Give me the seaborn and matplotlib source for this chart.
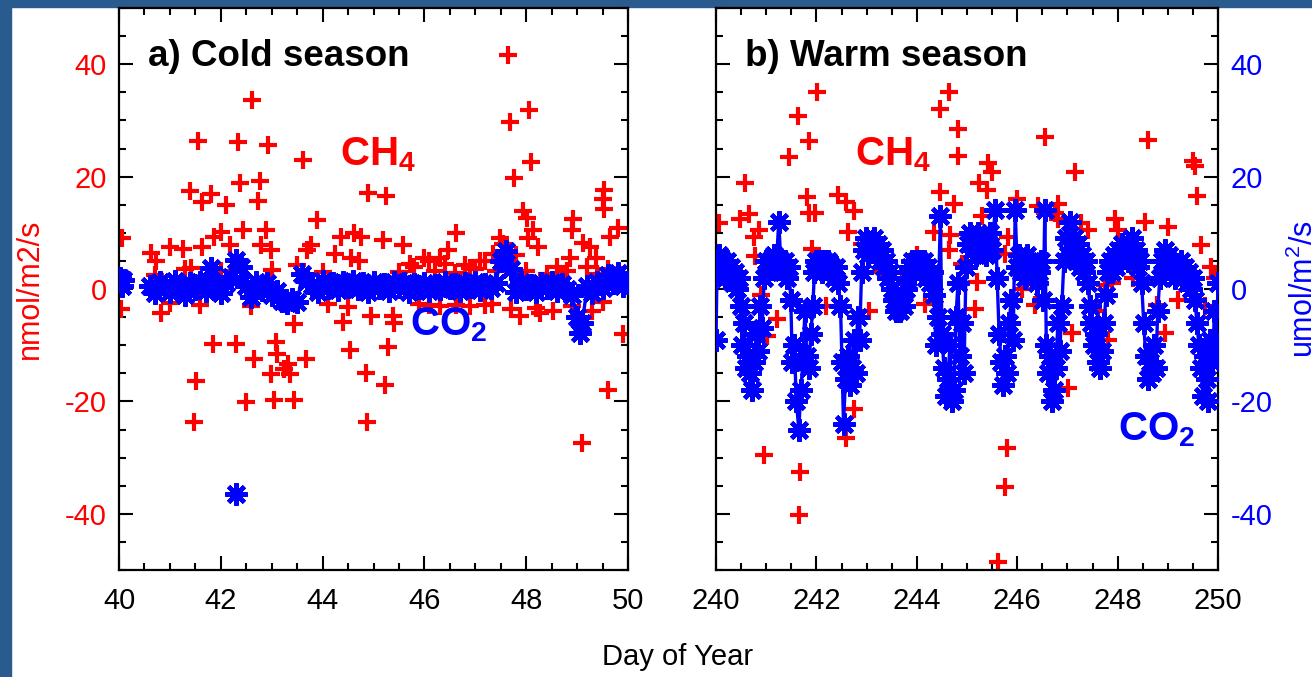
import numpy as np
import pandas as pd
import matplotlib
matplotlib.use("Agg")
import matplotlib.pyplot as plt
import seaborn as sns
from matplotlib.ticker import MultipleLocator
from matplotlib.patches import Rectangle

# ---------------- data ----------------
# Cold season CH4 (nmol/m2/s)
ch4_cold_day = [42.62, 41.55, 42.33, 42.93, 43.61, 41.40, 42.38, 42.77, 41.81, 41.64,
                42.10, 42.74, 43.89, 44.90, 42.00, 41.86, 42.43, 42.89, 42.78, 42.99,
                42.19, 40.06, 40.63, 41.01, 41.25, 41.64, 40.72, 41.41, 43.70, 43.77,
                44.24, 44.36, 44.62, 44.76, 44.55, 44.72, 40.04, 40.82, 44.10, 43.44,
                44.40, 41.84, 42.30, 42.66, 43.08, 43.11, 43.32, 43.67, 42.99, 43.35,
                43.25, 44.53, 44.85, 41.51, 42.49, 43.05, 43.44, 41.47, 44.87,
                47.64, 48.06, 47.68, 48.10, 47.76, 49.53, 49.50, 49.53, 47.94, 48.01,
                48.14, 48.04, 48.23, 48.92, 48.89, 49.12, 49.25, 49.81, 49.65, 48.86,
                49.38, 45.18, 45.57, 46.63, 46.46, 45.25, 47.48, 47.35, 46.10, 46.30,
                46.89, 47.09, 45.71, 45.38, 45.41, 44.95, 45.28, 45.22, 46.10, 46.63,
                47.33, 47.87, 48.27, 48.53, 49.61, 49.09, 49.91,
                40.70, 41.00, 41.30, 41.60, 42.00, 42.60, 43.00, 43.50, 44.00, 44.50,
                45.50, 45.80, 46.00, 46.20, 46.40, 46.60, 46.80, 47.00, 47.20, 47.40,
                47.55, 47.80, 48.00, 48.40, 48.60, 48.80, 49.20, 49.40, 49.60, 49.90,
                45.90, 46.30, 46.90, 47.20, 47.70, 48.20, 48.90, 49.30, 49.50]
ch4_cold_val = [33.6, 26.3, 26.1, 25.6, 22.9, 17.4, 18.9, 19.2, 16.9, 15.4,
                14.9, 15.6, 12.2, 17.1, 10.2, 9.3, 10.5, 10.5, 7.8, 6.9,
                7.8, 9.0, 6.4, 7.5, 7.2, 7.5, 5.0, 3.8, 6.9, 7.8,
                6.2, 9.3, 9.9, 9.3, 5.6, 5.0, -3.5, -4.2, -2.6, -6.3,
                -5.9, -9.7, -9.7, -12.4, -9.4, -11.5, -13.3, -12.4, -15.2, -15.2,
                -14.2, -10.9, -14.9, -16.4, -20.1, -19.7, -19.7, -23.6, -23.6,
                41.7, 31.9, 29.8, 22.6, 19.8, 17.6, 16.0, 14.2, 13.9, 12.7,
                10.5, 9.0, 7.5, 12.4, 10.5, 8.1, 7.5, 10.8, 9.3, 5.6,
                5.6, 8.7, 7.8, 9.9, 6.9, 16.6, 9.0, 6.2, 5.0, 5.6,
                3.8, 5.0, 4.4, -4.8, -6.0, -4.8, -10.3, -17.0, -2.9, -2.9,
                -2.6, -4.8, -4.2, -3.9, -17.9, -27.4, -8.0,
                2.5, -2.5, 3.5, -2.8, 3.2, -3.0, 3.4, 4.2, 3.0, -3.2,
                3.0, 4.0, 5.5, 3.2, 4.5, 2.8, 4.2, 3.6, 5.0, 3.2,
                8.0, 6.0, 3.2, 2.6, 4.0, 3.2, 4.0, 2.6, 3.6, 2.5,
                -2.6, -3.0, -3.0, -2.8, -3.5, -3.3, -3.0, -4.0, -2.4]

# Cold season CO2 (umol/m2/s); segment id separates data gaps
co2_cold_day = [40.02, 40.05, 40.08,
                40.6, 40.7, 40.8, 40.9, 41.0, 41.1, 41.2, 41.3, 41.4, 41.5,
                41.6, 41.7, 41.8, 41.9, 42.0, 42.1, 42.2, 42.3, 42.4, 42.5,
                42.6, 42.7, 42.8, 42.9, 43.0, 43.1, 43.2, 43.3, 43.4, 43.5,
                43.6, 43.7, 43.8, 43.9, 44.0, 44.1, 44.2, 44.3, 44.4, 44.5,
                44.6, 44.7, 44.8, 44.9, 45.0, 45.1, 45.2, 45.3, 45.4, 45.5,
                45.6, 45.7, 45.8, 45.9, 46.0, 46.1, 46.2, 46.3, 46.4, 46.5,
                46.6, 46.7, 46.8, 46.9, 47.0, 47.1, 47.2, 47.3, 47.4, 47.5,
                47.6, 47.7, 47.8, 47.9, 48.0, 48.1, 48.2, 48.3, 48.4, 48.5,
                48.6, 48.7, 48.8, 48.9, 49.0, 49.05, 49.1, 49.2, 49.3, 49.4,
                49.5, 49.6, 49.7, 49.8, 49.9, 50.0,
                42.30]
co2_cold_val = [2.0, 0.6, 1.6,
                0.5, -0.8, 1.2, 0.3, -0.5, 1.5, 0.2, -1.0, 1.0, 0.0,
                1.3, -0.4, 3.8, 0.6, -0.8, 1.0, 2.2, 5.2, 4.0, 0.5,
                -1.5, 1.2, -0.2, 1.0, -1.0, -0.3, -2.2, -2.5, -1.8, -2.4,
                2.6, 1.5, 0.8, -0.5, 1.4, 0.2, 1.0, -0.2, 1.2, 0.4,
                1.5, 0.0, 1.1, -0.6, 1.3, 0.1, 0.9, -0.4, 1.2, 0.3,
                1.0, -0.5, 0.9, 0.2, 1.1, -0.3, 0.8, 0.0, 1.2, 0.2,
                0.9, -0.4, 1.0, 0.3, 1.2, -0.2, 0.9, 0.1, 1.1, 5.0,
                6.8, 3.5, -0.5, 1.2, 0.0, 0.8, -0.6, 1.0, 0.2, 1.3,
                -0.3, 0.9, 0.0, -1.0, -5.0, -7.8, -6.0, 0.5, -0.8, 1.2,
                0.2, 2.5, 1.0, 2.8, 0.5, 1.0,
                -36.5]
co2_cold_seg = [0, 0, 0] + [1] * 96 + [2]

# Warm season CH4 (nmol/m2/s)
ch4_warm_day = [242.01, 241.63, 241.85, 241.46, 240.58, 241.81, 241.85, 241.98, 242.43, 242.58,
                242.74, 242.63, 240.48, 240.65, 240.05, 240.85, 240.75, 240.78, 241.91, 241.22,
                241.02, 242.74, 242.58, 240.95, 241.68, 241.66, 244.64, 244.47, 244.83, 244.83,
                244.47, 244.74, 244.34, 244.67, 244.64, 244.17, 243.04, 244.90,
                246.55, 248.61, 249.51, 249.54, 249.58, 247.15, 245.42, 245.49, 245.23, 245.39,
                245.29, 245.99, 246.42, 246.82, 246.75, 246.82, 247.28, 247.42, 248.01, 248.55,
                249.67, 245.82, 245.76, 245.19, 245.16, 246.35, 247.09, 247.02, 245.79, 245.76,
                245.62, 247.75, 247.88, 248.78, 248.94, 249.87, 249.94, 249.74,
                240.30, 240.90, 241.40, 242.20, 242.90, 243.30, 243.70, 244.00, 246.10, 247.60,
                248.30, 249.20, 249.00, 247.95, 248.20, 247.80]
ch4_warm_val = [35.0, 30.7, 26.4, 23.5, 18.8, 16.3, 13.6, 13.6, 16.8, 15.4,
                13.9, 10.2, 12.4, 13.3, 11.7, 10.5, 9.3, 5.9, 7.2, -5.4,
                -8.4, -21.3, -26.5, -29.5, -32.6, -40.2, 35.0, 32.0, 28.5, 23.7,
                17.2, 15.1, 10.2, 9.6, 6.9, -2.6, -4.0, 4.4,
                27.0, 26.5, 22.7, 21.8, 16.6, 20.9, 22.4, 20.9, 18.8, 17.6,
                13.0, 16.0, 14.8, 15.1, 13.6, 12.4, 11.7, 10.5, 10.5, 12.0,
                7.8, 9.3, 6.2, 1.3, -3.5, -2.9, -7.8, -17.6, -28.3, -35.3,
                -48.5, 0.7, 1.0, -2.9, -7.8, 4.0, 2.0, -3.0,
                2.0, -1.0, 4.0, -3.0, 8.0, 3.0, 2.0, 6.0, 0.0, -4.0,
                2.0, -2.0, 11.0, 12.5, 8.0, -9.0]

# Warm season CO2 (umol/m2/s)
co2_warm_day = [240.00, 240.02, 240.05, 240.09, 240.13, 240.17, 240.21, 240.25, 240.29, 240.33,
                240.37, 240.41, 240.45, 240.49, 240.52, 240.56, 240.60, 240.64, 240.68, 240.72,
                240.76, 240.80, 240.84, 240.88, 240.92, 240.96, 241.00, 241.04, 241.08, 241.12,
                241.16, 241.20, 241.25, 241.29, 241.33, 241.37, 241.41, 241.45, 241.49, 241.52,
                241.56, 241.60, 241.65, 241.69, 241.73, 241.77, 241.81, 241.85, 241.89, 241.93,
                241.96, 242.00, 242.04, 242.08, 242.12, 242.16, 242.20, 242.24, 242.28, 242.32,
                242.36, 242.40, 242.44, 242.48, 242.51, 242.54, 242.58, 242.62, 242.66, 242.70,
                242.74, 242.78, 242.82, 242.86, 242.90, 242.94, 242.98, 243.02, 243.06, 243.10,
                243.14, 243.18, 243.22, 243.26, 243.30, 243.34, 243.38, 243.42, 243.46, 243.50,
                243.54, 243.58, 243.62, 243.66, 243.70, 243.74, 243.78, 243.82, 243.86, 243.90,
                243.94, 243.98, 244.02, 244.06, 244.10, 244.14, 244.18, 244.22, 244.26, 244.30,
                244.34, 244.38, 244.42, 244.47, 244.50, 244.54, 244.58, 244.62, 244.66, 244.70,
                244.74, 244.78, 244.82, 244.86, 244.90, 244.94, 244.98, 245.02, 245.06, 245.10,
                245.14, 245.18, 245.22, 245.26, 245.30, 245.34, 245.38, 245.42, 245.46, 245.50,
                245.56, 245.60, 245.64, 245.68, 245.72, 245.76, 245.80, 245.84, 245.88, 245.92,
                245.96, 246.00, 246.04, 246.08, 246.12, 246.16, 246.20, 246.24, 246.28, 246.32,
                246.36, 246.40, 246.44, 246.48, 246.52, 246.55, 246.58, 246.62, 246.66, 246.69,
                246.73, 246.77, 246.81, 246.85, 246.89, 246.93, 246.97, 247.01, 247.05, 247.09,
                247.13, 247.17, 247.21, 247.25, 247.29, 247.33, 247.37, 247.41, 247.45, 247.48,
                247.52, 247.56, 247.60, 247.65, 247.69, 247.73, 247.77, 247.81, 247.85, 247.89,
                247.93, 247.97, 248.01, 248.05, 248.09, 248.13, 248.17, 248.21, 248.25, 248.28,
                248.32, 248.36, 248.40, 248.44, 248.48, 248.52, 248.56, 248.60, 248.64, 248.68,
                248.72, 248.76, 248.80, 248.84, 248.88, 248.92, 248.94, 248.98, 249.02, 249.06,
                249.10, 249.14, 249.18, 249.22, 249.26, 249.30, 249.34, 249.38, 249.42, 249.46,
                249.50, 249.54, 249.58, 249.62, 249.66, 249.70, 249.74, 249.78, 249.81, 249.85,
                249.89, 249.93, 249.97, 250.00]
co2_warm_val = [-9, 3, 6, 4, 5, 2, 5, 3, 4, 1,
                3, 0, 2, -3, -10, -6, -14, -12, -15, -18,
                -13, -8, -11, -3, -7, 2, 5, 3, 5, 4,
                6, 4, 12, 5, 3, 5, 2, 4, -2, -13,
                -10, -20, -25, -18, -13, -4, -12, -14, -8, -3,
                3, 5, 4, 5, 3, 5, 4, 5, 3, 4,
                2, 4, 1, -3, -13, -24, -16, -12, -17, -14,
                -9, -15, -5, -9, 3, 7, 9, 6, 8, 7,
                9, 6, 8, 5, 7, 4, 5, 2, 3, 0,
                -2, -4, -2, -4, -1, -3, 0, 2, 4, 5,
                3, 5, 4, 5, 3, 5, 2, 4, 1, 3,
                -1, -10, -5, 13, -8, -14, -19, -16, -10, -20,
                -18, -5, 1, -12, -6, -15, 4, 8, 10, 7,
                9, 6, 10, 8, 7, 9, 6, 8, 10, 7,
                14, 2, -8, -13, -17, -12, -15, -6, -2, -9,
                14, 4, 6, 3, 5, 2, 6, 4, 5, 2,
                4, 1, 3, 5, -2, 14, -10, -15, -12, -20,
                -18, -14, -6, -11, -3, 5, 9, 6, 12, 7,
                9, 5, 8, 4, 6, 3, 5, 1, -3, -6,
                -10, -8, -13, -14, -11, -6, -1, 3, 5, 3,
                6, 4, 7, 5, 8, 6, 7, 5, 8, 9,
                6, 7, 4, 5, 1, -6, -12, -16, -13, -15,
                -10, -14, -4, 2, 5, 3, 7, 4, 6, 3,
                5, 2, 4, 3, 5, 2, 4, 1, 3, 0,
                2, -2, -6, -10, -14, -19, -12, -16, -20, -9,
                -13, -4, -10, 1]

# tick values / labels
x_ticks_cold = [40, 42, 44, 46, 48, 50]
x_ticks_warm = [240, 242, 244, 246, 248, 250]
y_ticks = [-40, -20, 0, 20, 40]

# ---------------- styling ----------------
sns.set_theme(style="white")
plt.rcParams["font.family"] = ["Liberation Sans", "DejaVu Sans"]
plt.rcParams["mathtext.fontset"] = "custom"
plt.rcParams["mathtext.rm"] = "Liberation Sans"
plt.rcParams["mathtext.it"] = "Liberation Sans"
plt.rcParams["mathtext.bf"] = "Liberation Sans:bold"
plt.rcParams["axes.unicode_minus"] = False

RED = "#ff0000"
BLUE = "#0000ff"
ASTER = (8, 2, 0)

fig = plt.figure(figsize=(13.12, 6.77), dpi=100, facecolor="white")
frame_col = "#2a5b8e"
fig.patches.append(Rectangle((0, 0), 11 / 1312, 1, transform=fig.transFigure,
                             color=frame_col, zorder=-10))
fig.patches.append(Rectangle((0, 1 - 7 / 677), 1, 7 / 677, transform=fig.transFigure,
                             color=frame_col, zorder=-10))

ax1 = fig.add_axes([119 / 1312, 107 / 677, 509 / 1312, 562 / 677])
ax2 = fig.add_axes([716 / 1312, 107 / 677, 502 / 1312, 562 / 677])

cold_ch4 = pd.DataFrame({"day": ch4_cold_day, "val": ch4_cold_val})
cold_co2 = pd.DataFrame({"day": co2_cold_day, "val": co2_cold_val, "seg": co2_cold_seg})
warm_ch4 = pd.DataFrame({"day": ch4_warm_day, "val": ch4_warm_val})
warm_co2 = pd.DataFrame({"day": co2_warm_day, "val": co2_warm_val,
                         "seg": [0] * len(co2_warm_day)})

for ax, ch4, co2 in [(ax1, cold_ch4, cold_co2), (ax2, warm_ch4, warm_co2)]:
    sns.scatterplot(data=ch4, x="day", y="val", marker="+", s=170, linewidth=3.0,
                    color=RED, edgecolor=RED, ax=ax, zorder=2, legend=False)
    sns.lineplot(data=co2, x="day", y="val", units="seg", estimator=None, sort=False,
                 color=BLUE, lw=2.4, marker=ASTER, markersize=16,
                 markeredgewidth=3.2, markeredgecolor=BLUE, ax=ax, zorder=3,
                 legend=False)

for ax, xt in [(ax1, x_ticks_cold), (ax2, x_ticks_warm)]:
    ax.set_xlim(xt[0], xt[-1])
    ax.set_ylim(-50, 50)
    ax.set_xticks(xt)
    ax.set_yticks(y_ticks)
    ax.xaxis.set_minor_locator(MultipleLocator(0.5))
    ax.yaxis.set_minor_locator(MultipleLocator(5))
    ax.tick_params(which="both", direction="in", top=True, right=True,
                   left=True, bottom=True, width=1.5, colors="black")
    ax.tick_params(which="major", length=10)
    ax.tick_params(which="minor", length=5)
    ax.tick_params(axis="x", labelsize=21, pad=12, labelcolor="black")
    ax.set_xlabel("")
    ax.set_ylabel("")
    for sp in ax.spines.values():
        sp.set_linewidth(1.6)
        sp.set_color("black")
    ax.set_facecolor("white")

ax1.tick_params(axis="y", labelsize=21, pad=9, labelcolor=RED, labelleft=True,
                labelright=False)
ax2.tick_params(axis="y", labelsize=21, pad=9, labelcolor=BLUE, labelleft=False,
                labelright=True)

ax1.set_ylabel("nmol/m2/s", color=RED, fontsize=22)
ax1.yaxis.set_label_coords(-0.145, 0.5)
ax2.yaxis.set_label_position("right")
ax2.set_ylabel("umol/m$^2$/s", color=BLUE, fontsize=22, rotation=90, va="top")
ax2.yaxis.set_label_coords(1.14, 0.5)

# panel titles
ax1.text(0.057, 0.897, "a) Cold season", transform=ax1.transAxes, fontsize=26.5,
         fontweight="bold", color="black", va="baseline", ha="left")
ax2.text(0.058, 0.897, "b) Warm season", transform=ax2.transAxes, fontsize=26.5,
         fontweight="bold", color="black", va="baseline", ha="left")

# species labels
ax1.text(0.434, 0.72, r"$\mathbf{CH_4}$", transform=ax1.transAxes, fontsize=29,
         color=RED, va="baseline", ha="left", zorder=5)
ax1.text(0.572, 0.418, r"$\mathbf{CO_2}$", transform=ax1.transAxes, fontsize=29,
         color=BLUE, va="baseline", ha="left", zorder=5)
ax2.text(0.277, 0.72, r"$\mathbf{CH_4}$", transform=ax2.transAxes, fontsize=29,
         color=RED, va="baseline", ha="left", zorder=5)
ax2.text(0.80, 0.231, r"$\mathbf{CO_2}$", transform=ax2.transAxes, fontsize=29,
         color=BLUE, va="baseline", ha="left", zorder=5)

fig.text(678 / 1312, 20 / 677, "Day of Year", fontsize=21, color="black",
         ha="center", va="center")

fig.savefig("out.png", dpi=100, facecolor="white")
